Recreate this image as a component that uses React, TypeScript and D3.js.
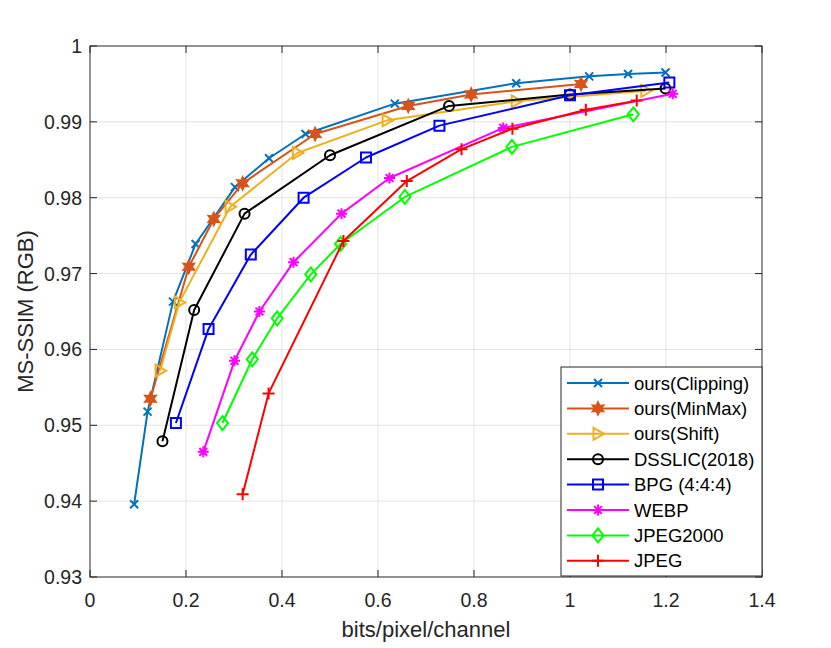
import { useEffect, useRef } from 'react';
import * as d3 from 'd3';

// values
const seriesNames = ['ours(Clipping)', 'ours(MinMax)', 'ours(Shift)', 'DSSLIC(2018)', 'BPG (4:4:4)', 'WEBP', 'JPEG2000', 'JPEG'];

const clippingX = [0.092, 0.120, 0.173, 0.220, 0.302, 0.373, 0.449, 0.635, 0.888, 1.040, 1.121, 1.199];
const clippingY = [0.9396, 0.9518, 0.9663, 0.9739, 0.9814, 0.9852, 0.9884, 0.9924, 0.9951, 0.9960, 0.9963, 0.9965];

const minmaxX = [0.126, 0.206, 0.258, 0.318, 0.469, 0.663, 0.794, 1.023];
const minmaxY = [0.9535, 0.9709, 0.9772, 0.9819, 0.9884, 0.9921, 0.9936, 0.9950];

const shiftX = [0.146, 0.186, 0.292, 0.432, 0.619, 0.888, 1.158];
const shiftY = [0.9572, 0.9662, 0.9788, 0.9859, 0.9902, 0.9927, 0.9941];

const dsslicX = [0.151, 0.217, 0.322, 0.500, 0.748, 1.000, 1.199];
const dsslicY = [0.9479, 0.9652, 0.9779, 0.9856, 0.9921, 0.9936, 0.9944];

const bpgX = [0.179, 0.247, 0.335, 0.445, 0.575, 0.728, 1.000, 1.207];
const bpgY = [0.9503, 0.9627, 0.9725, 0.9800, 0.9853, 0.9895, 0.9935, 0.9952];

const webpX = [0.236, 0.301, 0.353, 0.424, 0.524, 0.624, 0.861, 1.214];
const webpY = [0.9465, 0.9585, 0.9650, 0.9715, 0.9779, 0.9826, 0.9892, 0.9937];

const jp2kX = [0.276, 0.338, 0.390, 0.460, 0.522, 0.656, 0.879, 1.132];
const jp2kY = [0.9503, 0.9587, 0.9641, 0.9699, 0.9739, 0.9801, 0.9867, 0.9910];

const jpegX = [0.318, 0.372, 0.528, 0.660, 0.774, 0.880, 1.033, 1.139];
const jpegY = [0.9409, 0.9542, 0.9743, 0.9822, 0.9864, 0.9891, 0.9916, 0.9928];

const xTicks = [0, 0.2, 0.4, 0.6, 0.8, 1, 1.2, 1.4];
const yTicks = [0.93, 0.94, 0.95, 0.96, 0.97, 0.98, 0.99, 1];

const colors = ['#0072BD', '#D95319', '#EDB120', '#000000', '#0000FF', '#FF00FF', '#00FF00', '#FF0000'];
const markers = ['x', 'hexagram', 'triangle', 'circle', 'square', 'asterisk', 'diamond', 'plus'];

const FONT = '"Liberation Sans", Arial, Helvetica, sans-serif';
const INK = '#262626';

function markerPath(kind: string): string {
  switch (kind) {
    case 'x':
      return 'M-4,-4L4,4M-4,4L4,-4';
    case 'hexagram': {
      const pts: string[] = [];
      for (let i = 0; i < 12; i++) {
        const r = i % 2 === 0 ? 7 : 3.6;
        const a = -Math.PI / 2 + (i * Math.PI) / 6;
        pts.push(`${(r * Math.cos(a)).toFixed(2)},${(r * Math.sin(a)).toFixed(2)}`);
      }
      return 'M' + pts.join('L') + 'Z';
    }
    case 'triangle':
      return 'M-4.5,-6L6,0L-4.5,6Z';
    case 'circle':
      return 'M5,0A5,5 0 1,1 -5,0A5,5 0 1,1 5,0Z';
    case 'square':
      return 'M-5,-5L5,-5L5,5L-5,5Z';
    case 'asterisk':
      return 'M-5.5,0L5.5,0M0,-5.5L0,5.5M-3.9,-3.9L3.9,3.9M-3.9,3.9L3.9,-3.9';
    case 'diamond':
      return 'M0,-7L5.5,0L0,7L-5.5,0Z';
    case 'plus':
      return 'M-6,0L6,0M0,-6L0,6';
    default:
      return '';
  }
}

export default function App() {
  const svgRef = useRef<SVGSVGElement>(null);

  useEffect(() => {
    if (!svgRef.current) return;
    const width = 831;
    const height = 648;

    const svg = d3.select(svgRef.current);
    svg.selectAll('*').remove();
    svg.attr('width', width).attr('height', height);

    const margin = { top: 46, right: 69, bottom: 71, left: 90 };
    const innerWidth = width - margin.left - margin.right;
    const innerHeight = height - margin.top - margin.bottom;

    svg.append('rect').attr('width', width).attr('height', height).attr('fill', '#ffffff');

    const g = svg.append('g').attr('transform', `translate(${margin.left},${margin.top})`);

    const xScale = d3.scaleLinear().domain([0, 1.4]).range([0, innerWidth]);
    const yScale = d3.scaleLinear().domain([0.93, 1]).range([innerHeight, 0]);

    // Grid
    g.append('g')
      .selectAll('line')
      .data(xTicks.slice(1, -1))
      .enter().append('line')
      .attr('x1', d => xScale(d)).attr('x2', d => xScale(d))
      .attr('y1', 0).attr('y2', innerHeight)
      .attr('stroke', '#e3e3e3').attr('stroke-width', 1);

    g.append('g')
      .selectAll('line')
      .data(yTicks.slice(1, -1))
      .enter().append('line')
      .attr('x1', 0).attr('x2', innerWidth)
      .attr('y1', d => yScale(d)).attr('y2', d => yScale(d))
      .attr('stroke', '#e3e3e3').attr('stroke-width', 1);

    // Series
    const allX = [clippingX, minmaxX, shiftX, dsslicX, bpgX, webpX, jp2kX, jpegX];
    const allY = [clippingY, minmaxY, shiftY, dsslicY, bpgY, webpY, jp2kY, jpegY];

    const line = d3.line<[number, number]>()
      .x(d => xScale(d[0]))
      .y(d => yScale(d[1]));

    seriesNames.forEach((name, i) => {
      const pts: [number, number][] = allX[i].map((x, j) => [x, allY[i][j]]);
      const sg = g.append('g').attr('class', `series-${i}`);
      sg.append('path')
        .datum(pts)
        .attr('fill', 'none')
        .attr('stroke', colors[i])
        .attr('stroke-width', 2)
        .attr('stroke-linejoin', 'round')
        .attr('d', line);

      sg.selectAll('path.mk')
        .data(pts)
        .enter().append('path')
        .attr('class', 'mk')
        .attr('transform', d => `translate(${xScale(d[0])},${yScale(d[1])})`)
        .attr('d', markerPath(markers[i]))
        .attr('fill', markers[i] === 'hexagram' ? colors[i] : 'none')
        .attr('stroke', colors[i])
        .attr('stroke-width', markers[i] === 'hexagram' ? 1.2 : 2);
    });

    // Box + ticks
    g.append('rect')
      .attr('x', 0).attr('y', 0)
      .attr('width', innerWidth).attr('height', innerHeight)
      .attr('fill', 'none').attr('stroke', INK).attr('stroke-width', 1);

    const tickLen = 7;
    const ticks = g.append('g').attr('stroke', INK).attr('stroke-width', 1);
    xTicks.forEach(t => {
      ticks.append('line').attr('x1', xScale(t)).attr('x2', xScale(t)).attr('y1', innerHeight).attr('y2', innerHeight - tickLen);
      ticks.append('line').attr('x1', xScale(t)).attr('x2', xScale(t)).attr('y1', 0).attr('y2', tickLen);
    });
    yTicks.forEach(t => {
      ticks.append('line').attr('x1', 0).attr('x2', tickLen).attr('y1', yScale(t)).attr('y2', yScale(t));
      ticks.append('line').attr('x1', innerWidth).attr('x2', innerWidth - tickLen).attr('y1', yScale(t)).attr('y2', yScale(t));
    });

    // Tick labels
    g.append('g')
      .selectAll('text')
      .data(xTicks)
      .enter().append('text')
      .attr('x', d => xScale(d))
      .attr('y', innerHeight + 30)
      .attr('text-anchor', 'middle')
      .style('font-family', FONT)
      .style('font-size', '19.5px')
      .style('fill', INK)
      .text(d => d3.format('~g')(d));

    g.append('g')
      .selectAll('text')
      .data(yTicks)
      .enter().append('text')
      .attr('x', -8)
      .attr('y', d => yScale(d))
      .attr('dy', '0.36em')
      .attr('text-anchor', 'end')
      .style('font-family', FONT)
      .style('font-size', '19.5px')
      .style('fill', INK)
      .text(d => d3.format('~g')(d));

    // Axis labels
    svg.append('text')
      .attr('x', margin.left + innerWidth / 2)
      .attr('y', 637)
      .attr('text-anchor', 'middle')
      .style('font-family', FONT)
      .style('font-size', '22px')
      .style('fill', INK)
      .text('bits/pixel/channel');

    svg.append('text')
      .attr('transform', `translate(33,${margin.top + innerHeight / 2}) rotate(-90)`)
      .attr('text-anchor', 'middle')
      .style('font-family', FONT)
      .style('font-size', '22px')
      .style('fill', INK)
      .text('MS-SSIM (RGB)');

    // Legend
    const legendW = 201;
    const legendH = 209;
    const legend = g.append('g')
      .attr('transform', `translate(${innerWidth - legendW},${innerHeight - legendH - 1})`);

    legend.append('rect')
      .attr('width', legendW).attr('height', legendH)
      .attr('fill', '#ffffff').attr('stroke', INK).attr('stroke-width', 1);

    const rowStep = 25.4;
    seriesNames.forEach((name, i) => {
      const row = legend.append('g').attr('transform', `translate(0,${16 + i * rowStep})`);
      row.append('line')
        .attr('x1', 6).attr('x2', 68)
        .attr('stroke', colors[i]).attr('stroke-width', 2);
      row.append('path')
        .attr('transform', 'translate(37,0)')
        .attr('d', markerPath(markers[i]))
        .attr('fill', markers[i] === 'hexagram' ? colors[i] : 'none')
        .attr('stroke', colors[i])
        .attr('stroke-width', markers[i] === 'hexagram' ? 1.2 : 2);
      row.append('text')
        .attr('x', 73)
        .attr('y', 0)
        .attr('dy', '0.36em')
        .style('font-family', FONT)
        .style('font-size', '18.5px')
        .style('fill', '#000000')
        .text(name);
    });
  }, []);

  return (
    <div>
      <svg ref={svgRef} style={{ position: 'absolute', left: 0, top: 0 }}></svg>
    </div>
  );
}
